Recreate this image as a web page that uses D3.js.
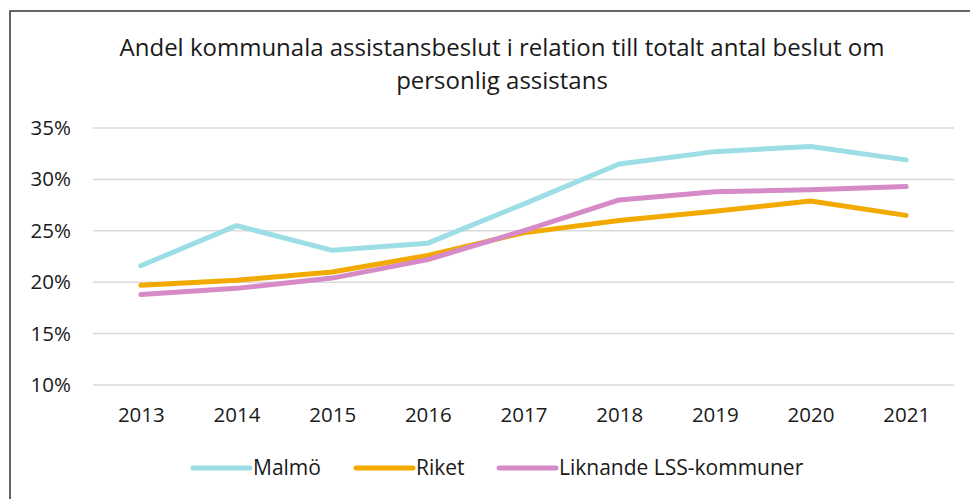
<!DOCTYPE html>
<html lang="sv">
<head>
<meta charset="utf-8">
<title>Andel kommunala assistansbeslut</title>
<script src="https://cdn.jsdelivr.net/npm/d3@7"></script>
<style>
  html, body { margin: 0; padding: 0; background: #fff; }
  #chart { width: 970px; height: 499px; }
  text { font-family: "Open Sans", "Noto Sans", sans-serif; fill: #1a1a1a; }
</style>
</head>
<body>
<div id="chart"></div>
<script>
// data
const years = ["2013", "2014", "2015", "2016", "2017", "2018", "2019", "2020", "2021"];
const malmo = [21.6, 25.5, 23.1, 23.8, 27.6, 31.5, 32.7, 33.2, 31.9];
const riket = [19.7, 20.2, 21.0, 22.6, 24.8, 26.0, 26.9, 27.9, 26.5];
const liknande = [18.8, 19.4, 20.4, 22.2, 25.0, 28.0, 28.8, 29.0, 29.3];
const yTicks = [10, 15, 20, 25, 30, 35];
const seriesNames = ["Malmö", "Riket", "Liknande LSS-kommuner"];
const titleLines = ["Andel kommunala assistansbeslut i relation till totalt antal beslut om", "personlig assistans"];

const width = 970, height = 499;
const colors = ["#9ddde6", "#f2aa00", "#d68bc8"];

const svg = d3.select("#chart").append("svg")
  .attr("width", width)
  .attr("height", height);

// outer frame (right/bottom run off the picture)
svg.append("path")
  .attr("d", `M10,${height + 5} L10,11 L${width + 5},11`)
  .attr("fill", "none")
  .attr("stroke", "#333")
  .attr("stroke-width", 1.5);

// title
svg.append("g").selectAll("text")
  .data(titleLines)
  .join("text")
  .attr("x", 502)
  .attr("y", (d, i) => 56 + i * 33)
  .attr("text-anchor", "middle")
  .attr("font-size", 24)
  .text(d => d);

const x = d3.scalePoint().domain(years).range([93, 954]).padding(0.5);
const y = d3.scaleLinear().domain([10, 35]).range([385, 128]);

// gridlines
svg.append("g").selectAll("line")
  .data(yTicks)
  .join("line")
  .attr("x1", 93).attr("x2", 954)
  .attr("y1", d => y(d)).attr("y2", d => y(d))
  .attr("stroke", "#d9d9d9")
  .attr("stroke-width", 1.5);

// y labels
const yAxis = svg.append("g")
  .attr("transform", "translate(71,0)")
  .call(d3.axisLeft(y).tickValues(yTicks).tickFormat(d => d + "%").tickSize(0).tickPadding(0));
yAxis.select(".domain").remove();
yAxis.selectAll("text").attr("font-size", 20.5).attr("fill", "#1a1a1a").attr("font-family", null);

// x labels
const xAxis = svg.append("g")
  .attr("transform", "translate(0,407)")
  .call(d3.axisBottom(x).tickSize(0).tickPadding(0));
xAxis.select(".domain").remove();
xAxis.selectAll("text").attr("font-size", 20.5).attr("fill", "#1a1a1a").attr("font-family", null);

// lines
const line = d3.line().x((d, i) => x(years[i])).y(d => y(d));
const series = [malmo, riket, liknande];
svg.append("g").selectAll("path")
  .data(series)
  .join("path")
  .attr("d", line)
  .attr("fill", "none")
  .attr("stroke", (d, i) => colors[i])
  .attr("stroke-width", 5)
  .attr("stroke-linecap", "round")
  .attr("stroke-linejoin", "round");

// legend
const legendX = [193, 356, 499];
const lg = svg.append("g").selectAll("g")
  .data(seriesNames)
  .join("g")
  .attr("transform", (d, i) => `translate(${legendX[i]},468)`);
lg.append("line")
  .attr("x1", 0).attr("x2", 57)
  .attr("stroke", (d, i) => colors[i])
  .attr("stroke-width", 5)
  .attr("stroke-linecap", "round");
lg.append("text")
  .attr("x", 60)
  .attr("dy", "0.35em")
  .attr("font-size", 21)
  .text(d => d);
</script>
</body>
</html>
